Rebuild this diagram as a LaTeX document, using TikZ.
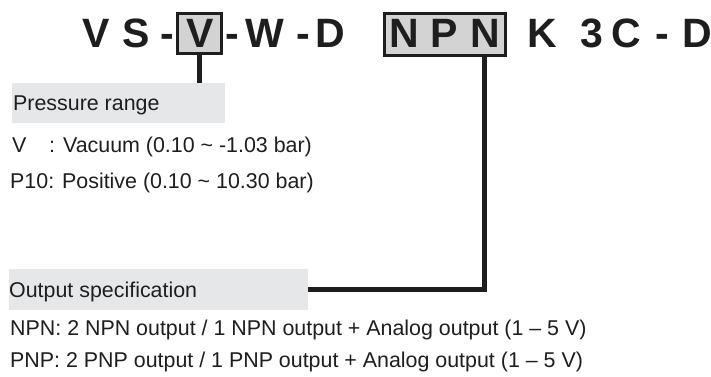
\documentclass[tikz,border=0pt]{standalone}
\usepackage{fontspec}
\setmainfont{Liberation Sans}
\usetikzlibrary{calc}
\definecolor{ink}{HTML}{1E1E1E}
\definecolor{boxgray}{HTML}{D3D3D3}
\definecolor{labelgray}{HTML}{E6E7E8}
\begin{document}
\begin{tikzpicture}[x=1pt,y=-1pt,
  code/.style={font=\fontsize{41}{41}\selectfont\bfseries, text=ink, inner sep=0pt, anchor=base},
  codebox/.style={draw=ink, line width=3pt, fill=boxgray, inner sep=0pt},
  labelbox/.style={fill=labelgray, inner sep=0pt},
  body/.style={font=\fontsize{21.4}{25}\selectfont, text=ink, inner sep=0pt, anchor=base west},
  link/.style={draw=ink, line width=4.5pt}]
\useasboundingbox[fill=white] (0,0) rectangle (711,376);

% gray label boxes
\node[labelbox, minimum width=213pt, minimum height=40pt] (pr) at (118.5,103) {};
\node[labelbox, minimum width=299pt, minimum height=41pt] (os) at (158.5,289.5) {};

% code boxes
\node[codebox, minimum width=44pt, minimum height=40pt] (vbox) at (199.5,33.5) {};
\node[codebox, minimum width=121pt, minimum height=42pt] (npn) at (445,34.5) {};

% connectors
\draw[link] (vbox.south) -- (vbox.south |- pr.north);
\draw[link] ([xshift=-22.5pt]npn.south east) |- (os.east);

% code letters
\node[code] (c1) at (96,47) {V};
\node[code] (c2) at (136,47) {S};
\node[code] (c3) at (167,47) {-};
\node[code] (c4) at (200,47) {V};
\node[code] (c5) at (232,47) {-};
\node[code] (c6) at (265,47) {W};
\node[code] (c7) at (303,47) {-};
\node[code] (c8) at (330,47) {D};
\node[code] (c9) at (404,47) {N};
\node[code] (c10) at (444,47) {P};
\node[code] (c11) at (485,47) {N};
\node[code] (c12) at (542,47) {K};
\node[code] (c13) at (592,47) {3};
\node[code] (c14) at (626,47) {C};
\node[code] (c15) at (662,47) {-};
\node[code] (c16) at (697,47) {D};

% texts
\node[body] (prt) at (13,110) {Pressure range};
\node[body] (l1) at (12,152) {\makebox[37pt][l]{V}: Vacuum (0.10 \textasciitilde{} -1.03 bar)};
\node[body] (l2) at (10,188) {P10: Positive (0.10 \textasciitilde{} 10.30 bar)};
\node[body] (ost) at (9,297) {Output specification};
\node[body] (l3) at (10,335) {NPN: 2 NPN output / 1 NPN output + Analog output (1 -- 5 V)};
\node[body] (l4) at (10,367) {PNP: 2 PNP output / 1 PNP output + Analog output (1 -- 5 V)};
\end{tikzpicture}
\end{document}
